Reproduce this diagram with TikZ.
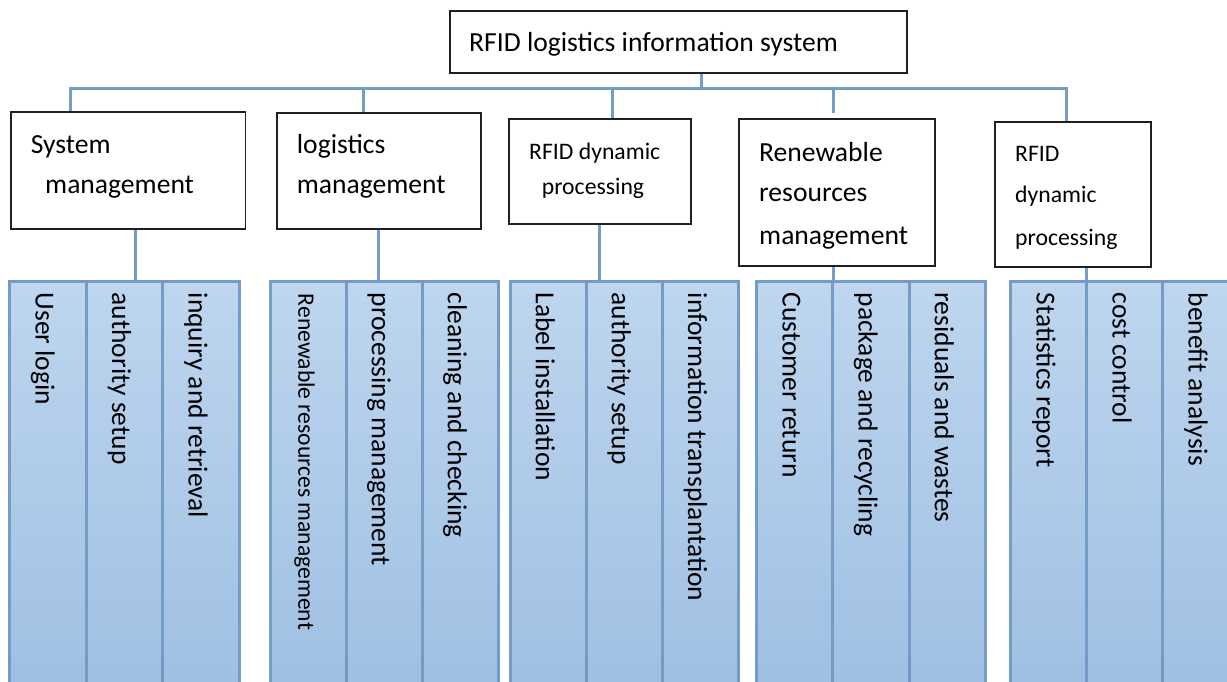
\documentclass[tikz,border=0pt]{standalone}
\usepackage{fontspec}
\setmainfont{Carlito}
\usetikzlibrary{calc}
\definecolor{linkblue}{RGB}{117,156,199}
\definecolor{colTop}{RGB}{190,214,239}
\definecolor{colBot}{RGB}{157,190,226}
\pgfdeclarelayer{bg}
\pgfsetlayers{bg,main}
\begin{document}
\begin{tikzpicture}[x=1pt,y=-1pt,
  conn/.style={draw=linkblue, line width=3pt},
  blackbox/.style={draw=black!88, line width=1.8pt, fill=white, inner sep=0pt,
    outer sep=0pt, anchor=north west},
  col/.style={draw=linkblue, line width=3pt, top color=colTop, bottom color=colBot,
    inner sep=0pt, outer sep=0pt, anchor=north west, minimum height=430pt},
  txtL/.style={anchor=base west, inner sep=0pt, font=\fontsize{27.6}{33}\selectfont},
  txtS/.style={anchor=base west, inner sep=0pt, font=\fontsize{23.7}{28}\selectfont},
  lab/.style={rotate=-90, anchor=base west, inner sep=0pt, font=\fontsize{27.5}{33}\selectfont},
  labS/.style={rotate=-90, anchor=base west, inner sep=0pt, font=\fontsize{23.6}{28}\selectfont}]
\useasboundingbox (0,0) rectangle (1227,681);
\begin{pgfonlayer}{bg}
  \fill[white] (0,0) rectangle (1227,681);
\end{pgfonlayer}
\clip (0,0) rectangle (1227,681);

% function columns, three per module
\foreach \gx/\w/\n in {9.9/76.43/1, 270/76.07/2, 510/76.13/3, 756.8/76.13/4, 1010.8/76/5}{
  \foreach \i in {0,1,2}{
    \node[col, minimum width=\w pt] (g\n-\i) at (\gx+\i*\w, 281.7) {};
  }
}

% column labels, read top to bottom
\node[lab]  (l1a) at ([xshift=25.8pt,yshift=-10.8pt]g1-0.north west) {User login};
\node[lab]  (l1b) at ([xshift=25.8pt,yshift=-10.8pt]g1-1.north west) {authority setup};
\node[lab]  (l1c) at ([xshift=25.8pt,yshift=-10.8pt]g1-2.north west) {inquiry and retrieval};
\node[labS] (l2a) at ([xshift=28.3pt,yshift=-12pt]g2-0.north west) {Renewable resources management};
\node[lab]  (l2b) at ([xshift=25.8pt,yshift=-10.8pt]g2-1.north west) {processing management};
\node[lab]  (l2c) at ([xshift=25.8pt,yshift=-10.8pt]g2-2.north west) {cleaning and checking};
\node[lab]  (l3a) at ([xshift=25.8pt,yshift=-10.8pt]g3-0.north west) {Label installation};
\node[lab]  (l3b) at ([xshift=25.8pt,yshift=-10.8pt]g3-1.north west) {authority setup};
\node[lab]  (l3c) at ([xshift=25.8pt,yshift=-10.8pt]g3-2.north west) {information transplantation};
\node[lab]  (l4a) at ([xshift=25.8pt,yshift=-10.8pt]g4-0.north west) {Customer return};
\node[lab]  (l4b) at ([xshift=25.8pt,yshift=-10.8pt]g4-1.north west) {package and recycling};
\node[lab]  (l4c) at ([xshift=25.8pt,yshift=-10.8pt]g4-2.north west) {residuals and wastes};
\node[lab]  (l5a) at ([xshift=25.8pt,yshift=-10.8pt]g5-0.north west) {Statistics report};
\node[lab]  (l5b) at ([xshift=25.8pt,yshift=-10.8pt]g5-1.north west) {cost control};
\node[lab]  (l5c) at ([xshift=25.8pt,yshift=-10.8pt]g5-2.north west) {benefit analysis};

% system and module boxes
\node[blackbox, minimum width=457.4pt, minimum height=62.6pt]  (root) at (449.6,10.7) {};
\node[blackbox, minimum width=234.8pt, minimum height=117.6pt] (b1) at (10.7,111.7) {};
\node[blackbox, minimum width=204pt,   minimum height=116.3pt] (b2) at (277,113) {};
\node[blackbox, minimum width=182pt,   minimum height=104.7pt] (b3) at (509,119.3) {};
\node[blackbox, minimum width=196.4pt, minimum height=146.4pt] (b4) at (738.8,119.3) {};
\node[blackbox, minimum width=155.8pt, minimum height=145.6pt] (b5) at (995,121.7) {};

% box texts
\node[txtL] (t0)  at (469,51.7)  {RFID logistics information system};
\node[txtL] (t1a) at (30.6,153.3) {System};
\node[txtL] (t1b) at (45,193.3)   {management};
\node[txtL] (t2a) at (296.7,153.8) {logistics};
\node[txtL] (t2b) at (296.7,193.3) {management};
\node[txtS] (t3a) at (529,159.3) {RFID dynamic};
\node[txtS] (t3b) at (541.7,194) {processing};
\node[txtL] (t4a) at (759,161)   {Renewable};
\node[txtL] (t4b) at (759,201.7) {resources};
\node[txtL] (t4c) at (759,244)   {management};
\node[txtS] (t5a) at (1015,161.7) {RFID};
\node[txtS] (t5b) at (1015,202)   {dynamic};
\node[txtS] (t5c) at (1015,245)   {processing};

% tree connectors, kept behind the boxes
\coordinate (bus) at (0,88.3);
\coordinate (rs) at ([xshift=252pt]root.south west);
\coordinate (j1) at (70,88.3);
\coordinate (j2) at (363.5,88.3);
\coordinate (j3) at (612,88.3);
\coordinate (j4) at (833,88.3);
\coordinate (j5) at (1066,88.3);
\coordinate (k1) at (135,281.7);
\coordinate (k2) at (378.8,281.7);
\coordinate (k3) at (599.5,281.7);
\coordinate (k4) at (833.2,281.7);
\coordinate (k5) at (1086.8,281.7);
\begin{pgfonlayer}{bg}
  \draw[conn] (rs) -- (rs |- bus);
  \draw[conn] (j1 |- b1.north) -- (j1) -- (j5) -- (j5 |- b5.north);
  \draw[conn] (j2) -- (j2 |- b2.north);
  \draw[conn] (j3) -- (j3 |- b3.north);
  \draw[conn] (j4) -- ++(0,24.4);
  \draw[conn] (k1 |- b1.south) -- (k1);
  \draw[conn] (k2 |- b2.south) -- (k2);
  \draw[conn] (k3 |- b3.south) -- (k3);
  \draw[conn] (k4 |- b4.south) -- (k4);
  \draw[conn] (k5 |- b5.south) -- (k5);
\end{pgfonlayer}
\end{tikzpicture}
\end{document}
